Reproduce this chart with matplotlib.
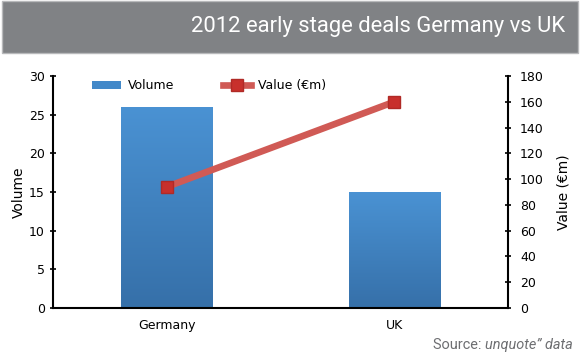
import numpy as np
import matplotlib
matplotlib.use("Agg")
import matplotlib.pyplot as plt
from matplotlib.patches import Rectangle

countries = ["Germany", "UK"]
volume = [26, 15]
value_eur_m = [94, 160]

title = "2012 early stage deals Germany vs UK"
narrow = ["Roboto", "DejaVu Sans"]

fig = plt.figure(figsize=(5.8, 3.58), dpi=100)
renderer = fig.canvas.get_renderer()

def fit_width(txt, target_px):
    # shrink/grow the font so the text spans target_px
    w = txt.get_window_extent(renderer).width
    txt.set_fontsize(txt.get_fontsize() * target_px / w)

# header band
fig.patches.append(Rectangle((0.004, 0.853), 0.992, 0.145, transform=fig.transFigure,
                             facecolor="#808285", edgecolor="#b8b9bb", linewidth=1))
t = fig.text(0.974, 0.925, title, ha="right", va="center", color="white",
             fontsize=17, family=narrow)
fit_width(t, 375)

ax = fig.add_axes([0.0914, 0.1397, 0.7846, 0.648])
x = np.arange(len(countries))
bars = ax.bar(x, volume, width=0.4, color="#4389c9", zorder=2, label="Volume")

# gradient fill for bars
grad = np.linspace(0, 1, 100).reshape(-1, 1)
cmap = matplotlib.colors.LinearSegmentedColormap.from_list("b", ["#3670a9", "#4a92d3"])
for b in bars:
    bx, by = b.get_x(), b.get_y()
    im = ax.imshow(grad, cmap=cmap, aspect="auto", origin="lower", zorder=2,
                   extent=[bx, bx + b.get_width(), by, by + b.get_height()])
    im.set_clip_path(b)

ax.set_xlim(-0.5, 1.5)
ax.set_ylim(0, 30)
ax.set_yticks(range(0, 31, 5))
ax.set_xticks(x)
ax.set_xticklabels(countries)
ax.set_ylabel("Volume", fontsize=10, labelpad=2)
ax.tick_params(axis="y", direction="inout", length=5, width=1.2, labelsize=9)
ax.tick_params(axis="x", length=0, labelsize=9, pad=8)
for s in ["top", "right"]:
    ax.spines[s].set_visible(False)
ax.spines["left"].set_linewidth(1.5)
ax.spines["bottom"].set_linewidth(1.5)

ax2 = ax.twinx()
line, = ax2.plot(x, value_eur_m, color="#d05a55", linewidth=4.8, marker="s",
                 markersize=9, markerfacecolor="#c8302c", markeredgecolor="#b02a26",
                 zorder=3, label="Value (\u20acm)")
ax2.set_ylim(0, 180)
ax2.set_yticks(range(0, 181, 20))
ax2.set_ylabel("Value (\u20acm)", fontsize=10, labelpad=9)
ax2.tick_params(axis="y", direction="inout", length=5, width=1.2, labelsize=9, pad=6)
for s in ["top", "left", "bottom"]:
    ax2.spines[s].set_visible(False)
ax2.spines["right"].set_linewidth(1.5)

fig.legend([bars, line], ["Volume", "Value (\u20acm)"], loc="upper left",
           bbox_to_anchor=(0.14, 0.81), ncol=2, frameon=False, fontsize=9,
           handlelength=2.3, columnspacing=3.9, handletextpad=0.5)

# source note: italic part right-aligned, "Source:" just left of it, same size
src_y = 0.025
src = fig.text(0.988, src_y, "unquote\u201d data", ha="right", va="baseline",
               color="#6d6e71", fontsize=11, family=narrow, style="italic")
s1 = fig.text(0.5, src_y, "Source: ", ha="right", va="baseline",
              color="#6d6e71", fontsize=11, family=narrow)
total = src.get_window_extent(renderer).width + s1.get_window_extent(renderer).width
size = 11 * 140 / total
src.set_fontsize(size)
s1.set_fontsize(size)
s1.set_x(src.get_window_extent(renderer).x0 / fig.bbox.width)

fig.savefig("out.png", dpi=100)
